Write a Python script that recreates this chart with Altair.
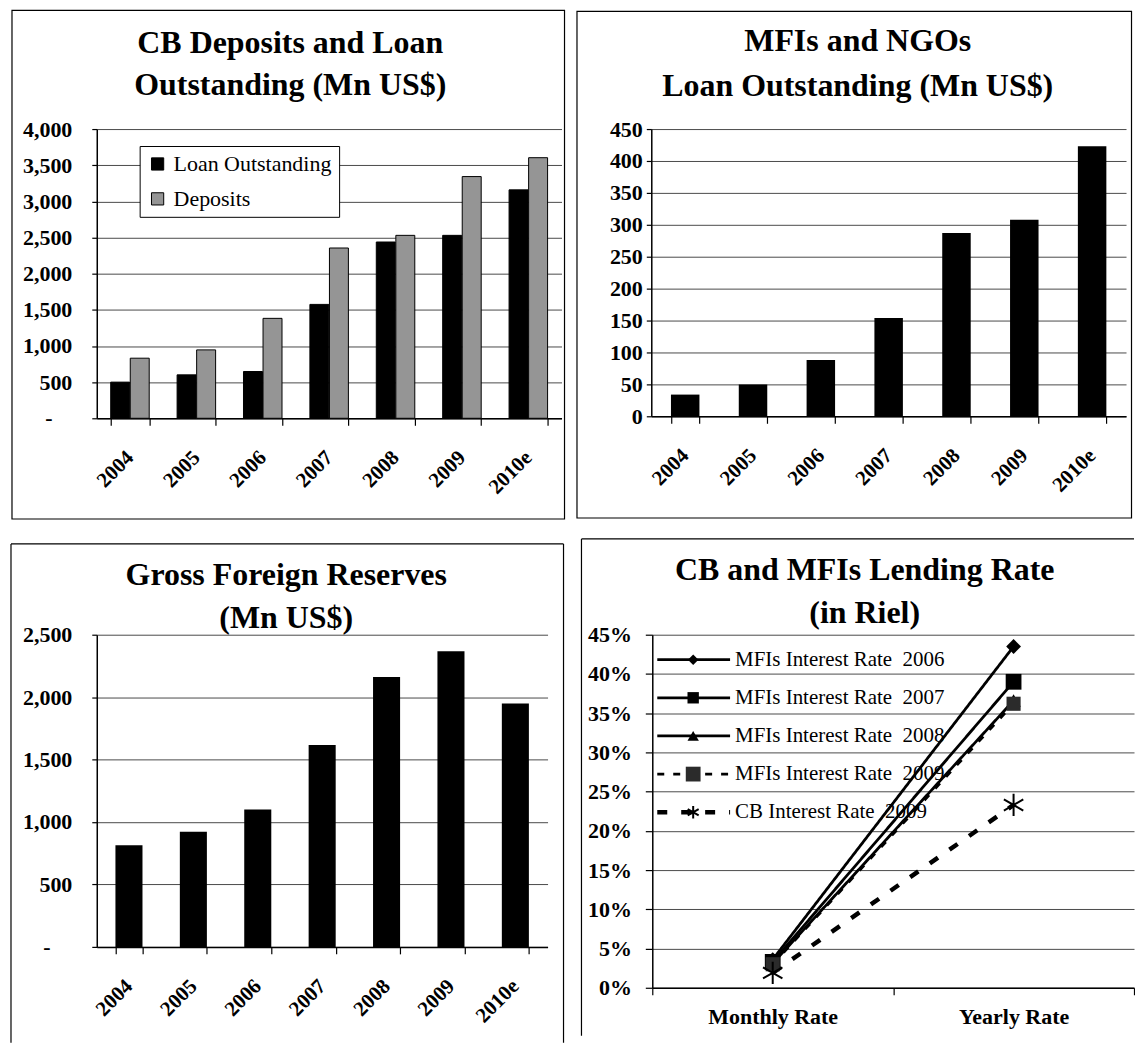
import altair as alt
import pandas as pd

FONT = "Liberation Serif"

# ---------------- data ----------------
years = ["2004", "2005", "2006", "2007", "2008", "2009", "2010e"]
cb_series = ["Loan Outstanding", "Deposits"]
cb_loan = [500, 601, 647, 1575, 2438, 2530, 3159]
cb_deposits = [831, 946, 1382, 2355, 2530, 3343, 3604]
mfi_loan = [34, 50, 88, 154, 287, 308, 423]
reserves = [814, 923, 1100, 1617, 2161, 2367, 1949]
periods = ["Monthly Rate", "Yearly Rate"]
rate_series = [
    "MFIs Interest Rate  2006",
    "MFIs Interest Rate  2007",
    "MFIs Interest Rate  2008",
    "MFIs Interest Rate  2009",
    "CB Interest Rate  2009",
]
monthly_rate = [0.036, 0.033, 0.031, 0.030, 0.019]
yearly_rate = [0.435, 0.390, 0.366, 0.362, 0.233]

title_tl = ["CB Deposits and Loan", "Outstanding (Mn US$)"]
title_tr = ["MFIs and NGOs", "Loan Outstanding (Mn US$)"]
title_bl = ["Gross Foreign Reserves", "(Mn US$)"]
title_br = ["CB and MFIs Lending Rate", "(in Riel)"]
zero_label = "-"

tl_df = pd.DataFrame({
    "year": years * 2,
    "series": [cb_series[0]] * len(years) + [cb_series[1]] * len(years),
    "value": cb_loan + cb_deposits,
})
tr_df = pd.DataFrame({"year": years, "value": mfi_loan})
bl_df = pd.DataFrame({"year": years, "value": reserves})
rates_df = pd.DataFrame({
    "series": [s for s in rate_series for _ in periods],
    "period": periods * len(rate_series),
    "rate": [v for pair in zip(monthly_rate, yearly_rate) for v in pair],
})
legend_df = pd.DataFrame({"series": rate_series, "row": list(range(len(rate_series)))})
zero_df = pd.DataFrame({"value": [0], "label": [zero_label]})
one = pd.DataFrame({"k": [0]})

ASTERISK = "M0,-1L0,1M-0.87,-0.5L0.87,0.5M-0.87,0.5L0.87,-0.5"


# ---------------- helpers ----------------
def cell(x1, x2, y1, y2):
    return alt.Chart(one).mark_rect(opacity=0).encode(
        x=alt.value(x1), x2=alt.value(x2), y=alt.value(y1), y2=alt.value(y2))


def box(x1, x2, y1, y2):
    return alt.Chart(one).mark_rect(fillOpacity=0, stroke="black", strokeWidth=1.2).encode(
        x=alt.value(x1), x2=alt.value(x2), y=alt.value(y1), y2=alt.value(y2))


def seg(x1, x2, y1, y2):
    return alt.Chart(one).mark_rule(color="black", strokeWidth=1.2).encode(
        x=alt.value(x1), x2=alt.value(x2), y=alt.value(y1), y2=alt.value(y2))


def titles(lines, cx, ys):
    return [
        alt.Chart(one).mark_text(font=FONT, fontSize=32, fontWeight="bold", color="black",
                                 align="center", baseline="middle").encode(
            x=alt.value(cx), y=alt.value(y), text=alt.value(t))
        for t, y in zip(lines, ys)
    ]


def zero_mark(y_enc, x_px):
    return alt.Chart(zero_df).mark_text(font=FONT, fontSize=22, fontWeight="bold",
                                        color="black", align="center",
                                        baseline="middle").encode(
        x=alt.value(x_px), y=y_enc, text="label:N")


def year_axis(pad):
    return alt.Axis(title=None, labelAngle=315, labelAlign="right", labelBaseline="middle",
                    labelPadding=pad, tickBand="extent", tickSize=7, grid=False,
                    labelFontSize=21)


# ---------------- top left ----------------
W1, H1 = 466, 290
y_tl = alt.Y("value:Q", scale=alt.Scale(domain=[0, 4000], nice=False),
             axis=alt.Axis(title=None, values=list(range(0, 4001, 500)),
                           labelExpr="datum.value == 0 ? '' : format(datum.value, ',')",
                           tickSize=5, labelPadding=20))
tl_bars = alt.Chart(tl_df).mark_bar(stroke="black", strokeWidth=1).encode(
    x=alt.X("year:N", sort=years, scale=alt.Scale(paddingInner=0.42, paddingOuter=0.21),
            axis=year_axis(29)),
    xOffset=alt.XOffset("series:N", sort=cb_series, scale=alt.Scale(paddingInner=0.03)),
    y=y_tl,
    color=alt.Color("series:N", sort=cb_series,
                    scale=alt.Scale(domain=cb_series, range=["black", "#959595"]),
                    legend=alt.Legend(title=None, orient="none", legendX=43, legendY=17,
                                      fillColor="white", strokeColor="black", padding=7,
                                      labelFont=FONT, labelFontSize=22, labelColor="black",
                                      symbolType="square", symbolSize=150,
                                      symbolStrokeColor="black", symbolStrokeWidth=1,
                                      rowPadding=13, labelOffset=5)),
)
tl = alt.layer(
    cell(-89, 480, -120, 405), box(-85, 469, -119, 391),
    *titles(title_tl, 194, [-86, -44]), tl_bars, zero_mark(y_tl, -48),
).properties(width=W1, height=H1)

# ---------------- top right ----------------
W2, H2 = 476, 288
tr_bars = alt.Chart(tr_df).mark_bar(color="black").encode(
    x=alt.X("year:N", sort=years, scale=alt.Scale(paddingInner=0.58, paddingOuter=0.29),
            axis=year_axis(29)),
    y=alt.Y("value:Q", scale=alt.Scale(domain=[0, 450], nice=False),
            axis=alt.Axis(title=None, values=list(range(0, 451, 50)), format="d",
                          tickSize=5, labelPadding=4)),
)
tr = alt.layer(
    cell(-75, 483, -119, 406), box(-74.5, 481.5, -118, 390),
    *titles(title_tr, 207, [-88, -43]), tr_bars,
).properties(width=W2, height=H2)

# ---------------- bottom left ----------------
W3, H3 = 452, 313
y_bl = alt.Y("value:Q", scale=alt.Scale(domain=[0, 2500], nice=False),
             axis=alt.Axis(title=None, values=list(range(0, 2501, 500)),
                           labelExpr="datum.value == 0 ? '' : format(datum.value, ',')",
                           tickSize=5, labelPadding=20))
bl_bars = alt.Chart(bl_df).mark_bar(color="black").encode(
    x=alt.X("year:N", sort=years, scale=alt.Scale(paddingInner=0.58, paddingOuter=0.29),
            axis=year_axis(29)),
    y=y_bl,
)
bl = alt.layer(
    cell(-87, 482, -94, 409),
    seg(-86, 468, -91, -91), seg(-86, -86, -91, 409), seg(468, 468, -91, 409),
    *titles(title_bl, 190, [-60, -17]), bl_bars, zero_mark(y_bl, -50),
).properties(width=W3, height=H3)

# ---------------- bottom right ----------------
W4, H4 = 483, 354
x_rate = alt.X("period:N", sort=periods,
               scale=alt.Scale(type="band", domain=periods, paddingInner=0, paddingOuter=0),
               axis=alt.Axis(title=None, labelAngle=0, tickBand="extent", tickSize=7,
                             labelPadding=12, grid=False, labelFontSize=22))
y_rate = alt.Y("rate:Q", scale=alt.Scale(domain=[0, 0.45], nice=False),
               axis=alt.Axis(title=None, values=[i * 0.05 for i in range(10)], format=".0%",
                             tickSize=7, labelPadding=14))
dash_enc = alt.StrokeDash("series:N",
                          scale=alt.Scale(domain=rate_series,
                                          range=[[1, 0], [1, 0], [1, 0], [7, 9], [10, 14]]),
                          legend=None)

marker_style = {
    rate_series[0]: dict(shape="diamond", size=220, filled=True, color="black"),
    rate_series[1]: dict(shape="square", size=250, filled=True, color="black"),
    rate_series[2]: dict(shape="triangle-up", size=210, filled=True, color="black"),
    rate_series[3]: dict(shape="square", size=200, filled=True, color="#2b2b2b"),
    rate_series[4]: dict(shape=ASTERISK, size=500, filled=False, color="black", strokeWidth=2),
}
legend_marker_size = {rate_series[0]: 110, rate_series[1]: 130, rate_series[2]: 130,
                      rate_series[3]: 220, rate_series[4]: 160}

main_layers = [
    alt.Chart(rates_df).transform_filter(alt.datum.series != rate_series[4])
    .mark_line(color="black", strokeWidth=2.8)
    .encode(x=x_rate, y=y_rate, strokeDash=dash_enc),
    alt.Chart(rates_df).transform_filter(alt.datum.series == rate_series[4])
    .mark_line(color="black", strokeWidth=4.5)
    .encode(x=x_rate, y=y_rate, strokeDash=dash_enc),
]
for s in rate_series:
    main_layers.append(
        alt.Chart(rates_df).transform_filter(alt.datum.series == s)
        .mark_point(opacity=1, **marker_style[s]).encode(x=x_rate, y=y_rate)
    )
main_group = alt.layer(*main_layers)

y_leg = alt.Y("row:Q", scale=alt.Scale(domain=[0, 4], range=[25, 178]), axis=None)
legend_layers = [
    alt.Chart(legend_df).transform_filter(alt.datum.series != rate_series[4])
    .mark_rule(color="black", strokeWidth=2.8)
    .encode(x=alt.value(5), x2=alt.value(78), y=y_leg, strokeDash=dash_enc),
    alt.Chart(legend_df).transform_filter(alt.datum.series == rate_series[4])
    .mark_rule(color="black", strokeWidth=4.5)
    .encode(x=alt.value(5), x2=alt.value(78), y=y_leg, strokeDash=dash_enc),
]
for s in rate_series:
    st = dict(marker_style[s])
    st["size"] = legend_marker_size[s]
    legend_layers.append(
        alt.Chart(legend_df).transform_filter(alt.datum.series == s)
        .mark_point(opacity=1, **st).encode(x=alt.value(41), y=y_leg)
    )
legend_layers.append(
    alt.Chart(legend_df)
    .transform_calculate(label="replace(datum.series, '  ', '\u00a0\u00a0')")
    .mark_text(font=FONT, fontSize=21, color="black", align="left", baseline="middle")
    .encode(x=alt.value(83), y=y_leg, text="label:N")
)
legend_group = alt.layer(*legend_layers)

br = alt.layer(
    cell(-75, 483, -101, 402),
    seg(-71, 483, -96, -96), seg(-71, -71, -96, 402),
    *titles(title_br, 213, [-65, -22]),
    main_group, legend_group,
).resolve_scale(y="independent").properties(width=W4, height=H4)

chart = alt.vconcat(
    alt.hconcat(tl, tr, spacing=0),
    alt.hconcat(bl, br, spacing=0),
    spacing=0,
).properties(
    padding=0, background="white"
).configure_view(
    strokeWidth=0
).configure_axis(
    labelFont=FONT, labelFontSize=22, labelFontWeight="bold", labelColor="black",
    domainColor="black", domainWidth=1.5, tickColor="black", tickWidth=1.2,
    gridColor="#4a4a4a", gridWidth=1,
)

chart.save("out.html", embed_options={"renderer": "svg", "actions": False})
